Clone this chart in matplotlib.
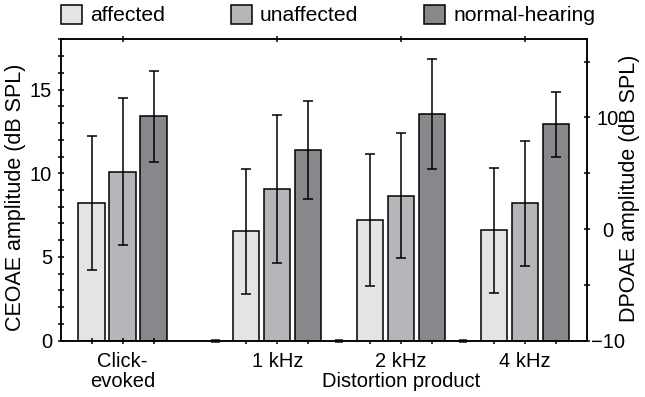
import numpy as np
import matplotlib.pyplot as plt
from matplotlib.patches import Patch

plt.rcParams['font.family'] = ['Liberation Sans', 'DejaVu Sans']

groups = ['affected', 'unaffected', 'normal-hearing']
colors = ['#e3e4e6', '#b5b6ba', '#87888c']

# click-evoked OAE amplitude (left axis), mean and SD
ceoae_mean = [8.2, 10.1, 13.4]
ceoae_sd = [4.0, 4.4, 2.7]

# distortion product OAE amplitude (right axis), per f2 frequency
dp_freqs = ['1 kHz', '2 kHz', '4 kHz']
dp_affected = [-0.2, 0.8, -0.1]
dp_affected_sd = [5.6, 5.9, 5.6]
dp_unaffected = [3.6, 3.0, 2.3]
dp_unaffected_sd = [6.6, 5.6, 5.6]
dp_normal = [7.1, 10.3, 9.4]
dp_normal_sd = [4.4, 4.9, 2.9]

dp_mean = [dp_affected, dp_unaffected, dp_normal]
dp_sd = [dp_affected_sd, dp_unaffected_sd, dp_normal_sd]

fs = 14.5
lw = 1.1
bw = 0.85
err_kw = dict(ecolor='black', elinewidth=lw, capsize=3.3, capthick=lw)

fig = plt.figure(figsize=(6.45, 3.97), dpi=100)
ax = fig.add_axes([0.0941, 0.1418, 0.8155, 0.7592])
ax2 = ax.twinx()

# click-evoked group sits in slots 0-2, DP groups in slots 5-7, 9-11, 13-15
click_x = np.arange(3)
dp_start = 5 + 4 * np.arange(len(dp_freqs))

for i in range(3):
    ax.bar(click_x[i], ceoae_mean[i], width=bw, color=colors[i],
           edgecolor='black', linewidth=lw, yerr=ceoae_sd[i], error_kw=err_kw)
    ax2.bar(dp_start + i, np.array(dp_mean[i]) + 10, bottom=-10, width=bw,
            color=colors[i], edgecolor='black', linewidth=lw,
            yerr=dp_sd[i], error_kw=err_kw)

# short marks on the baseline between groups
gaps = dp_start - 1
ax.hlines(np.zeros(len(gaps)), gaps - 0.14, gaps + 0.14, colors='#222222',
          linewidth=2.6, zorder=5, clip_on=False)

ax.set_xlim(-1, 16)
ax.set_ylim(0, 18)
ax2.set_ylim(-10, 17)

ax.set_xticks([1] + list(dp_start + 1))
ax.set_xticklabels(['Click-\nevoked', dp_freqs[0],
                    dp_freqs[1] + '\nDistortion product', dp_freqs[2]],
                   fontsize=fs, linespacing=1.05)
ax.set_xticks(np.sort(np.concatenate([[0, 2], dp_start, dp_start + 2])), minor=True)

ax.set_yticks([0, 5, 10, 15])
ax.set_yticks(np.arange(0, 19), minor=True)
ax2.set_yticks([-10, 0, 10])
ax2.set_yticks([-5, 5, 15], minor=True)

ax.tick_params(axis='both', which='both', direction='inout', length=4.5,
               width=lw, labelsize=fs, top=True)
ax.tick_params(axis='x', which='major', pad=6)
ax.tick_params(axis='x', which='minor', top=False)
ax.tick_params(axis='y', which='major', pad=4)
ax2.tick_params(axis='y', which='both', direction='inout', length=4.5,
                width=lw, labelsize=fs, pad=13)
for lab in ax2.get_yticklabels():
    lab.set_horizontalalignment('center')

for a in (ax, ax2):
    for s in a.spines.values():
        s.set_linewidth(lw)

ax.set_ylabel('CEOAE amplitude (dB SPL)', fontsize=fs + 1)
ax.yaxis.set_label_coords(-0.066, 0.475)
ax2.set_ylabel('DPOAE amplitude (dB SPL)', fontsize=fs + 1)
ax2.yaxis.set_label_coords(1.062, 0.505)

handles = [Patch(facecolor=c, edgecolor='black', linewidth=lw) for c in colors]
fig.legend(handles, groups, loc='upper left', bbox_to_anchor=(0.094, 0.988),
           ncol=3, frameon=False, fontsize=fs + 0.7, handlelength=1.0,
           handleheight=1.0, handletextpad=0.4, columnspacing=3.1,
           borderpad=0, borderaxespad=0)

fig.savefig('out.png', dpi=100)
